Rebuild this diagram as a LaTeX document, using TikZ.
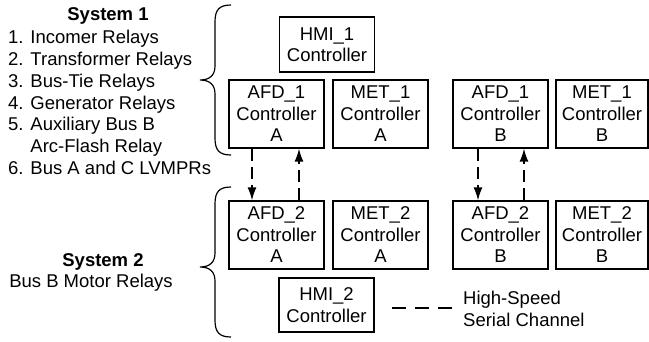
\documentclass[tikz,border=0pt]{standalone}
\usepackage{fontspec}
\setmainfont{Liberation Sans}
\usetikzlibrary{arrows.meta}
\begin{document}
\begin{tikzpicture}[x=1pt,y=-1pt,
  every node/.style={font=\fontsize{18.5}{21.5}\selectfont, inner sep=0pt},
  ctrl/.style={draw, line width=1.3pt, align=center, minimum width=95pt, minimum height=68pt},
  hmi/.style={draw, line width=1.3pt, align=center, minimum width=95pt, minimum height=55pt},
  brace/.style={line width=1.2pt},
  link/.style={line width=1.4pt, dash pattern=on 12pt off 6pt, -{Latex[length=13pt,width=9pt]}},
  legend/.style={line width=1.4pt, dash pattern=on 14pt off 9pt}]
\useasboundingbox (0,0) rectangle (649,341);

% left-hand descriptions
\node[font=\fontsize{18.5}{21.5}\selectfont\bfseries] (s1) at (108,16) {System 1};
\node[anchor=west, align=left, font=\fontsize{18.5}{21.8}\selectfont] (s1list) at (8,102.5)
  {1. Incomer Relays\\
   2. Transformer Relays\\
   3. Bus-Tie Relays\\
   4. Generator Relays\\
   5. Auxiliary Bus B\\
   \hphantom{5. }Arc-Flash Relay\\
   6. Bus A and C LVMPRs};
\node[font=\fontsize{18.5}{21.5}\selectfont\bfseries] (s2) at (103,262) {System 2};
\node (s2list) at (91,283) {Bus B Motor Relays};

% curly braces
\draw[brace] (231,5) .. controls (219,5) and (215,10) .. (215,22)
  -- (215,66) .. controls (215,75) and (210,80) .. (200,80)
  .. controls (210,80) and (215,85) .. (215,94)
  -- (215,138) .. controls (215,150) and (219,155) .. (231,155);
\draw[brace] (231,187) .. controls (219,187) and (215,192) .. (215,204)
  -- (215,253) .. controls (215,262) and (210,267) .. (200,267)
  .. controls (210,267) and (215,272) .. (215,281)
  -- (215,320) .. controls (215,332) and (219,337) .. (231,337);

% system 1 controllers
\node[hmi] (hmi1) at (327,44.5) {HMI\_1\\Controller};
\node[ctrl] (afd1a) at (276.5,114) {AFD\_1\\Controller\\A};
\node[ctrl] (met1a) at (380.5,114) {MET\_1\\Controller\\A};
\node[ctrl] (afd1b) at (500.5,114) {AFD\_1\\Controller\\B};
\node[ctrl, minimum width=92pt] (met1b) at (602,114) {MET\_1\\Controller\\B};

% system 2 controllers
\node[ctrl] (afd2a) at (276.5,235) {AFD\_2\\Controller\\A};
\node[ctrl] (met2a) at (380.5,235) {MET\_2\\Controller\\A};
\node[ctrl] (afd2b) at (500.5,235) {AFD\_2\\Controller\\B};
\node[ctrl, minimum width=92pt] (met2b) at (602,235) {MET\_2\\Controller\\B};
\node[hmi, minimum height=54pt] (hmi2) at (326.5,305) {HMI\_2\\Controller};

% high-speed serial links between the AFD controllers
\draw[link] ([xshift=-24.5pt]afd1a.south) -- ([xshift=-24.5pt]afd2a.north);
\draw[link] ([xshift=22.5pt]afd2a.north) -- ([xshift=22.5pt]afd1a.south);
\draw[link] ([xshift=-22.5pt]afd1b.south) -- ([xshift=-22.5pt]afd2b.north);
\draw[link] ([xshift=23.5pt]afd2b.north) -- ([xshift=23.5pt]afd1b.south);

% legend
\coordinate (lg1) at (392,308);
\coordinate (lg2) at (454,308);
\draw[legend] (lg1) -- (lg2);
\node[anchor=west, align=left] (lgtext) at (463,309) {High-Speed\\Serial Channel};
\end{tikzpicture}
\end{document}
